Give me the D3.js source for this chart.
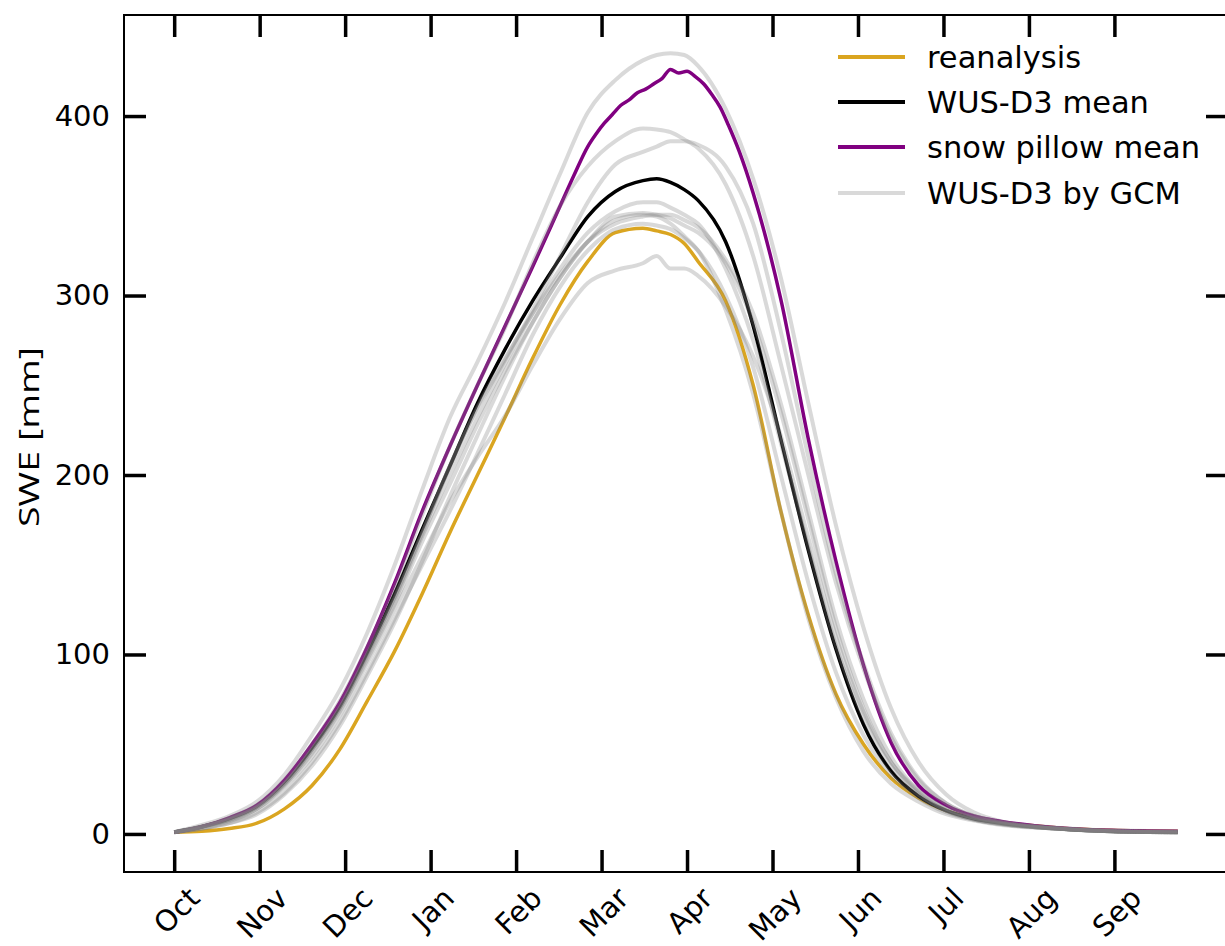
<!DOCTYPE html>
<html>
<head>
<meta charset="utf-8">
<script src="https://cdn.jsdelivr.net/npm/d3@7"></script>
<style>
  html, body { margin: 0; padding: 0; background: #fff; }
  svg { display: block; }
</style>
</head>
<body>
<svg id="chart" width="1225" height="946"></svg>
<script>
// ---- data (water-year day index; SWE in mm) ----
const days = [0,10,20,30,40,50,60,70,80,90,100,110,120,130,140,150,160,170,175,180,185,190,200,210,220,230,240,250,260,270,280,290,300,320,340,364];

const reanalysis = [1,1.5,3,6,14,27,47,74,102,134,168,200,232,265,295,319,335,337.5,336,334,329,319,297,250,180,122,78,50,31,20,13,9,6.5,3.5,2,1.5];
const wusMean    = [1,4,8.5,15.5,29,48,71,101,134,170,205,240,270,297,321,344,358,364,365,363,359,353,330,283,220,158,103,61,35,21,13,8.5,6,3,1.5,1];

const pillowDays = [0,10,20,30,40,50,60,70,80,90,100,110,120,130,140,145,150,153,156,159,162,165,168,171,174,177,180,183,186,189,192,195,198,201,205,210,220,230,240,250,260,270,280,290,300,320,340,364];
const pillowMean = [1,4,9,16,30,50,73,104,140,180,216,250,283,316,350,367,383,390,396,401,406,409,413,415,418,421,426,424,425,422,418,412,405,395,380,357,298,220,152,94,51,27,16,10,7,3.5,2,1.5];

const gcm1 = [1,5,10,18,33,55,80,112,150,192,232,263,296,332,368,402,420,431,434,435,434,428,404,365,310,240,172,115,70,40,22,12,7,3.5,2,1.5];
const gcm2 = [1,4,9,16,30,50,74,104,138,178,216,250,282,318,350,372,386,393,392.5,391,387,382,362,322,262,200,140,92,54,30,17,10,6.5,3,1.5,1];
const gcm3 = [1,4,8,15,28,47,70,100,132,168,205,237,264,292,322,352,373,380,383,386,386,384,372,340,280,210,145,95,56,31,17,10,6.5,3,1.5,1];
const gcm4 = [1,4,8,15,28,47,70,99,130,166,200,232,262,290,315,335,347,352,352,349,345,340,315,275,218,160,105,65,38,22,13,8,5.5,3,1.5,1];
const gcm5 = [1,4,8,14,27,45,68,97,128,163,195,228,258,285,310,330,344,346,345,343,339,335,318,285,235,175,115,70,40,23,13,8,5.5,3,1.5,1];
const gcm6 = [1,4,8.5,15,28,47,70,100,132,168,205,238,265,290,312,330,340,344,345,345,342,338,320,290,240,180,120,75,43,24,14,9,6,3,1.5,1];
const gcm7 = [1,3,6,12,23,40,62,90,120,150,180,212,245,278,305,325,337,340,339,337,332,325,300,260,200,140,90,55,33,20,12,8,5.5,3,1.5,1];
const gcm8 = [1,3,7,14,26,43,66,95,125,155,185,210,233,261,287,307,314,318,322,315,315,311,294,266,222,165,110,68,40,24,14,9,6,3,1.5,1];
const gcm9 = [1,3,6,11,22,38,60,88,118,152,188,222,255,285,310,330,342,345,344,340,333,325,292,245,180,120,76,46,28,18,11,7.5,5,3,1.5,1];
const gcmSeries = [gcm1,gcm2,gcm3,gcm4,gcm5,gcm6,gcm7,gcm8,gcm9];

const monthLabels = ["Oct","Nov","Dec","Jan","Feb","Mar","Apr","May","Jun","Jul","Aug","Sep"];
const monthDays = [0,31,62,93,124,155,186,217,248,279,310,341];
const yTicks = [0,100,200,300,400];

const legendItems = [
  {label:"reanalysis", color:"#DAA520", opacity:1},
  {label:"WUS-D3 mean", color:"#000000", opacity:1},
  {label:"snow pillow mean", color:"#800080", opacity:1},
  {label:"WUS-D3 by GCM", color:"#808080", opacity:0.3}
];

// ---- layout ----
const L = 124, R = 1228, T = 15, B = 872;
const FONT = "DejaVu Sans";
const svg = d3.select("#chart");

const x = d3.scaleLinear().domain([-18.2, 382.2]).range([L, R]);
const y = d3.scaleLinear().domain([-21.2, 456.3]).range([B, T]);

const lineOn = (xs) => d3.line()
  .x((d,i) => x(xs[i]))
  .y(d => y(d))
  .curve(d3.curveMonotoneX);
const line = lineOn(days);

const plot = svg.append("g");

plot.append("path").datum(reanalysis).attr("d", line)
  .attr("fill","none").attr("stroke","#DAA520").attr("stroke-width",3.5).attr("stroke-linejoin","round");
plot.append("path").datum(wusMean).attr("d", line)
  .attr("fill","none").attr("stroke","#000").attr("stroke-width",3.5).attr("stroke-linejoin","round");
plot.append("path").datum(pillowMean).attr("d", lineOn(pillowDays))
  .attr("fill","none").attr("stroke","#800080").attr("stroke-width",3.5).attr("stroke-linejoin","round");
plot.selectAll("path.gcm").data(gcmSeries).enter().append("path")
  .attr("class","gcm").attr("d", line)
  .attr("fill","none").attr("stroke","#808080").attr("stroke-opacity",0.3)
  .attr("stroke-width",4).attr("stroke-linejoin","round");

// ---- axes ----
function styleAxis(g){
  g.select(".domain").remove();
  g.selectAll(".tick line").attr("stroke","#000").attr("stroke-width",3.5);
  g.attr("font-family", FONT);
}

const XFS = 29;
const xb = svg.append("g").attr("transform",`translate(0,${B})`)
  .call(d3.axisBottom(x).tickValues(monthDays).tickSizeInner(-22).tickSizeOuter(0)
    .tickFormat((d,i) => monthLabels[i]));
styleAxis(xb);
xb.selectAll(".tick text")
  .attr("font-size",XFS).attr("fill","#000")
  .attr("y",0).attr("dy","0.346em").attr("text-anchor","middle")
  .attr("transform", function(){
    const w = this.getComputedTextLength();
    const h = XFS*1.164;
    const bh = (w + h) * Math.SQRT1_2;
    return `translate(2,${9 + bh/2}) rotate(-45)`;
  });

const xt = svg.append("g").attr("transform",`translate(0,${T})`)
  .call(d3.axisTop(x).tickValues(monthDays).tickSizeInner(-22).tickSizeOuter(0).tickFormat(""));
styleAxis(xt);

const yl = svg.append("g").attr("transform",`translate(${L},0)`)
  .call(d3.axisLeft(y).tickValues(yTicks).tickSizeInner(-22).tickSizeOuter(0).tickPadding(14));
styleAxis(yl);
yl.selectAll(".tick text").attr("font-size",29).attr("fill","#000");

const yr = svg.append("g").attr("transform",`translate(${R},0)`)
  .call(d3.axisRight(y).tickValues(yTicks).tickSizeInner(-22).tickSizeOuter(0).tickFormat(""));
styleAxis(yr);

// spines
const sp = svg.append("g").attr("stroke","#000").attr("stroke-width",2).attr("fill","none");
sp.append("rect").attr("x",L).attr("y",T).attr("width",R-L).attr("height",B-T);

// y label
svg.append("text")
  .attr("transform",`translate(39,437) rotate(-90)`)
  .attr("text-anchor","middle")
  .attr("font-family","Open Sans")
  .attr("font-size",27)
  .attr("textLength",180).attr("lengthAdjust","spacingAndGlyphs")
  .attr("fill","#000")
  .text("SWE [mm]");

// legend
const lg = svg.append("g");
const rowY = [57,102,147,193];
legendItems.forEach((it,i) => {
  lg.append("line").attr("x1",838).attr("x2",905).attr("y1",rowY[i]).attr("y2",rowY[i])
    .attr("stroke",it.color).attr("stroke-opacity",it.opacity).attr("stroke-width",4);
  lg.append("text").attr("x",927).attr("y",rowY[i]).attr("dy","0.346em")
    .attr("font-family",FONT).attr("font-size",30.5).attr("fill","#000").text(it.label);
});
</script>
</body>
</html>
